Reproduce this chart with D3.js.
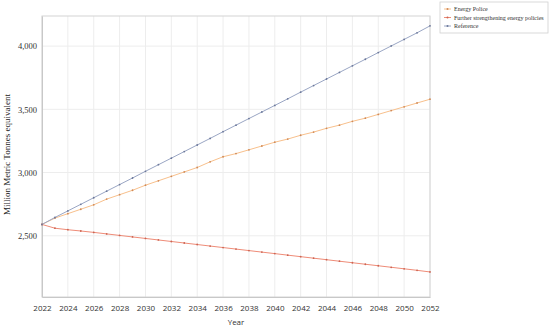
<!DOCTYPE html>
<html>
<head>
<meta charset="utf-8">
<script src="https://cdn.jsdelivr.net/npm/d3@7"></script>
<style>
  body { margin: 0; background: #fff; }
  svg { display: block; }
</style>
</head>
<body>
<div id="chart"></div>
<script>
var years = d3.range(2022, 2053);

var energyPolice = [2590, 2640, 2675, 2710, 2745, 2790, 2825, 2860, 2900, 2935, 2970,
  3005, 3040, 3085, 3125, 3150, 3180, 3210, 3240, 3265, 3295,
  3320, 3350, 3375, 3405, 3430, 3460, 3490, 3520, 3550, 3580];

var furtherPolicies = [2590, 2560, 2548, 2538, 2527, 2515, 2503, 2491, 2479, 2467, 2455,
  2443, 2431, 2419, 2407, 2395, 2383, 2371, 2359, 2347, 2335,
  2323, 2311, 2299, 2287, 2275, 2263, 2251, 2239, 2227, 2214];

var reference = [2590, 2645, 2697, 2749, 2801, 2853, 2905, 2957, 3010, 3062, 3114,
  3166, 3218, 3270, 3323, 3375, 3427, 3479, 3531, 3583, 3636,
  3688, 3740, 3792, 3844, 3896, 3949, 4001, 4053, 4105, 4160];

var xTicks = d3.range(2022, 2053, 2);
var yTicks = [2500, 3000, 3500, 4000];

var seriesNames = ["Energy Police", "Further strengthening energy policies", "Reference"];
var seriesData = [energyPolice, furtherPolicies, reference];
var lineColors = ["#f8c08c", "#ef8c78", "#9aa6c4"];
var dotColors = ["#d08a58", "#cc6452", "#6c789a"];

var svgWidth = 550, svgHeight = 328;
var margin = {top: 16, right: 120, bottom: 31, left: 42};
var width = 430 - margin.left;
var height = 297 - margin.top;

var svg = d3.select("#chart").append("svg")
  .attr("width", svgWidth)
  .attr("height", svgHeight);

var x = d3.scaleLinear().domain([2022, 2052]).range([0, width]);
var y = d3.scaleLinear().domain([2016, 4238]).range([height, 0]);

var g = svg.append("g").attr("transform", `translate(${margin.left},${margin.top})`);

// grid
g.append("g").selectAll("line").data(xTicks).enter().append("line")
  .attr("x1", d => x(d)).attr("x2", d => x(d))
  .attr("y1", 0).attr("y2", height)
  .attr("stroke", "#ededed").attr("stroke-width", 1);
g.append("g").selectAll("line").data(yTicks).enter().append("line")
  .attr("x1", 0).attr("x2", width)
  .attr("y1", d => y(d)).attr("y2", d => y(d))
  .attr("stroke", "#ededed").attr("stroke-width", 1);

// frame
g.append("rect").attr("width", width).attr("height", height)
  .attr("fill", "none").attr("stroke", "#d4d4d4").attr("stroke-width", 1);

// axes
var xAxis = g.append("g").attr("transform", `translate(0,${height})`)
  .call(d3.axisBottom(x).tickValues(xTicks).tickFormat(d3.format("d")).tickSize(0).tickPadding(8));
xAxis.select(".domain").attr("stroke", "#c8c8c8");
xAxis.selectAll("text").attr("font-family", "'Open Sans', sans-serif").attr("font-size", 8).attr("fill", "#333");

var yAxis = g.append("g")
  .call(d3.axisLeft(y).tickValues(yTicks).tickFormat(d3.format(",")).tickSize(0).tickPadding(5));
yAxis.select(".domain").attr("stroke", "#c8c8c8");
yAxis.selectAll("text").attr("font-family", "'Liberation Serif', serif").attr("font-size", 8.5).attr("fill", "#333");

// titles
svg.append("text")
  .attr("x", margin.left + width / 2).attr("y", 325)
  .attr("text-anchor", "middle")
  .attr("font-family", "'Open Sans', sans-serif").attr("font-size", 8).attr("fill", "#333")
  .text("Year");

svg.append("text")
  .attr("transform", `translate(10,${margin.top + height / 2 - 2}) rotate(-90)`)
  .attr("text-anchor", "middle")
  .attr("font-family", "'Liberation Serif', serif").attr("font-size", 9).attr("fill", "#222")
  .text("Million Metric Tonnes equivalent");

// lines
var line = d3.line().x((d, i) => x(years[i])).y(d => y(d));
seriesData.forEach(function(s, k) {
  g.append("path").datum(s)
    .attr("d", line)
    .attr("fill", "none")
    .attr("stroke", lineColors[k])
    .attr("stroke-width", 1);
  g.append("g").selectAll("circle").data(s).enter().append("circle")
    .attr("cx", (d, i) => x(years[i]))
    .attr("cy", d => y(d))
    .attr("r", 0.9)
    .attr("fill", dotColors[k]);
});

// legend
var legend = svg.append("g").attr("transform", "translate(440,2)");
legend.append("rect").attr("width", 108).attr("height", 31)
  .attr("fill", "#fff").attr("stroke", "#d0d0d0").attr("stroke-width", 0.8);
seriesNames.forEach(function(name, k) {
  var ly = 7 + k * 8.5;
  legend.append("line").attr("x1", 4).attr("x2", 11).attr("y1", ly).attr("y2", ly)
    .attr("stroke", lineColors[k]).attr("stroke-width", 1);
  legend.append("circle").attr("cx", 7.5).attr("cy", ly).attr("r", 1).attr("fill", dotColors[k]);
  legend.append("text").attr("x", 14).attr("y", ly + 2)
    .attr("font-family", "'Liberation Serif', serif").attr("font-size", 6).attr("fill", "#333")
    .text(name);
});
</script>
</body>
</html>
